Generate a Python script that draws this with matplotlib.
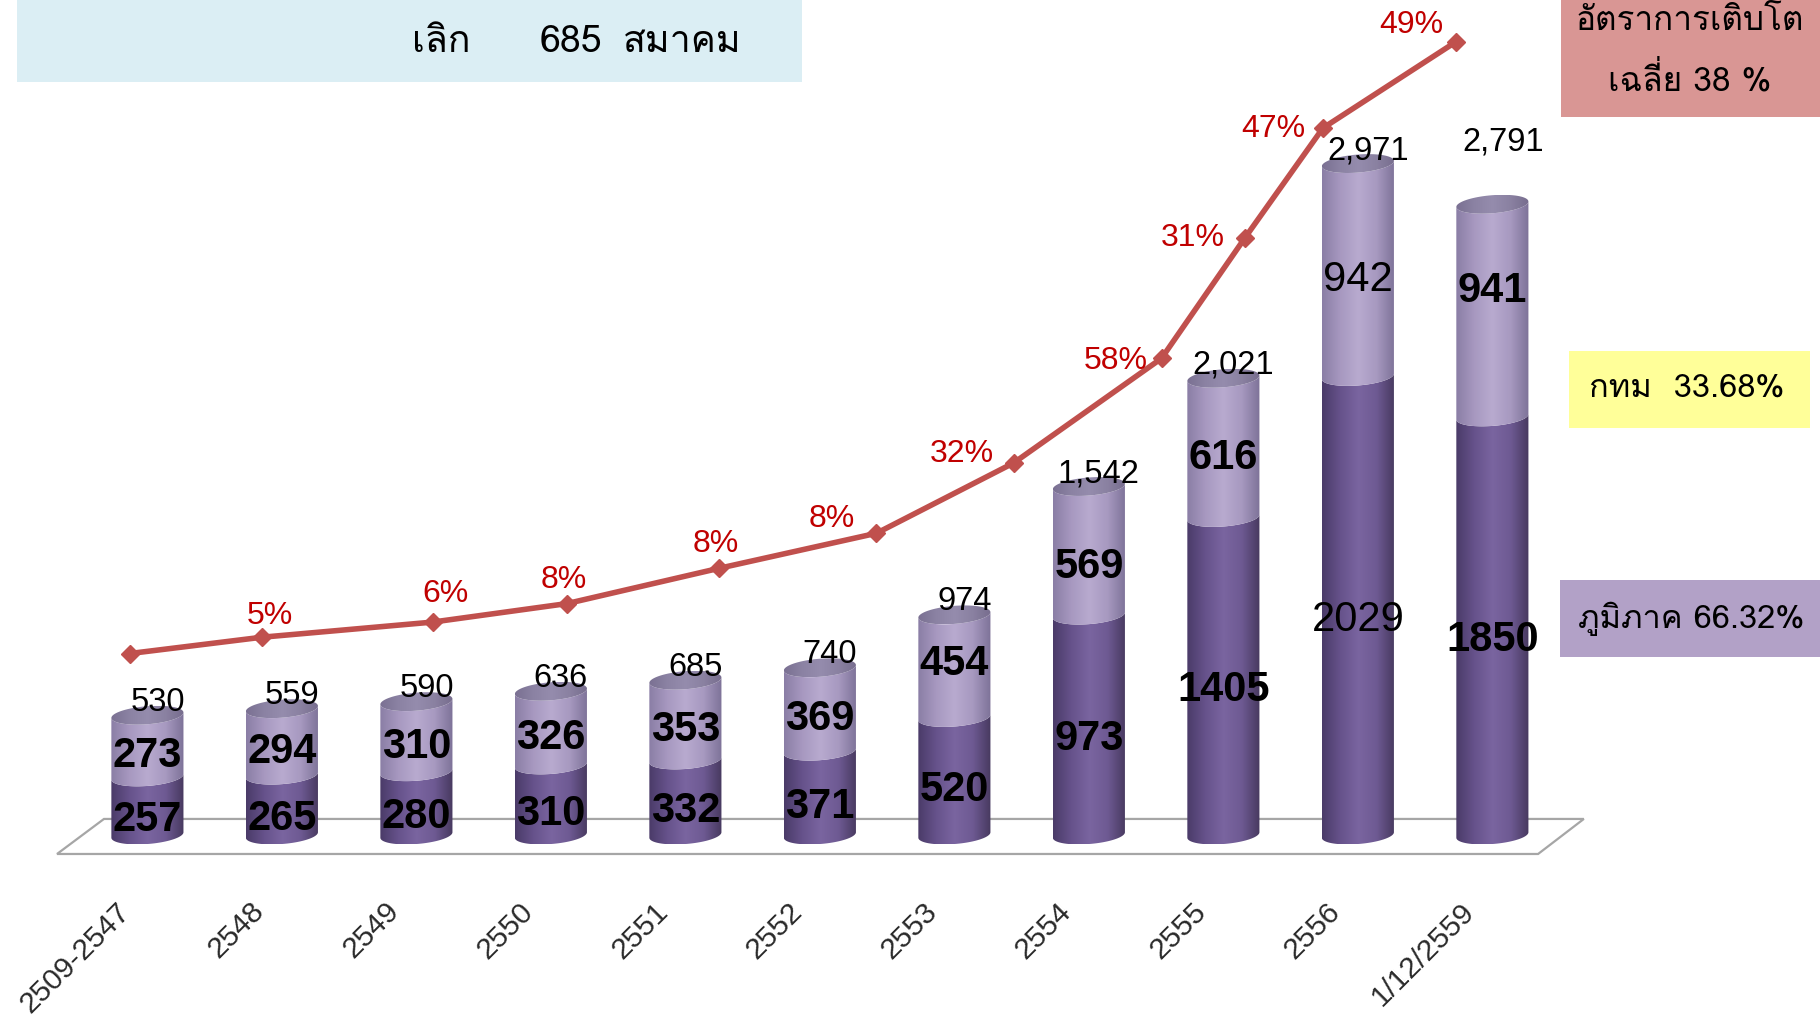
import numpy as np
import matplotlib
matplotlib.use('Agg')
import matplotlib.pyplot as plt
import matplotlib.font_manager as fm
from matplotlib.patches import Polygon, Rectangle
from matplotlib.colors import LinearSegmentedColormap

# data
years = ['2509-2547', '2548', '2549', '2550', '2551', '2552', '2553',
         '2554', '2555', '2556', '1/12/2559']
region = [257, 265, 280, 310, 332, 371, 520, 973, 1405, 2029, 1850]
bkk = [273, 294, 310, 326, 353, 369, 454, 569, 616, 942, 941]
totals = [530, 559, 590, 636, 685, 740, 974, 1542, 2021, 2971, 2791]
growth = ['', '5%', '6%', '8%', '8%', '8%', '32%', '58%', '31%', '47%', '49%']
# growth line (separate series, drawn on the same frame)
line_x = [-0.13, 0.85, 2.12, 3.12, 4.25, 5.42, 6.44, 7.54, 8.16, 8.74, 9.73]
line_y = [803, 875, 942, 1024, 1180, 1335, 1646, 2109, 2642, 3128, 3510]

names = {f.name for f in fm.fontManager.ttflist}
TH = 'Loma' if 'Loma' in names else 'Noto Sans Thai'
plt.rcParams['font.family'] = ['Liberation Sans', TH, 'DejaVu Sans']

W, H = 1820, 1018
fig = plt.figure(figsize=(W / 100, H / 100), dpi=100)
ax = fig.add_axes([0, 1 - 858 / H, 1, 858 / H])
ax.axis('off')
XL = (-1.096, 12.436)
YL = (-101.8, 3694.7)

a, b, k = 0.268, 40, 45  # cylinder half width, ellipse half height, tilt


def arc(xc, yc, t0, t1, n=80):
    t = np.linspace(t0, t1, n)
    x = xc + a * np.cos(t)
    return np.column_stack([x, yc + b * np.sin(t) + k * (x - xc)])


def grad_fill(pts, colors, z):
    cmap = LinearSegmentedColormap.from_list('g', colors)
    patch = Polygon(pts, closed=True, facecolor='none', edgecolor='none')
    ax.add_patch(patch)
    im = ax.imshow(np.linspace(0, 1, 256)[None, :], cmap=cmap, aspect='auto',
                   extent=[pts[:, 0].min(), pts[:, 0].max(), pts[:, 1].min(), pts[:, 1].max()],
                   origin='lower', interpolation='bilinear', zorder=z)
    im.set_clip_path(patch)


dark_c = ['#4a3b68', '#66528b', '#7a65a0', '#6e5a93', '#47395f']
light_c = ['#8a7ea5', '#a798c0', '#b8aacf', '#a799c0', '#7d7298']
cap_c = ['#7a7092', '#8b82a3', '#958cad', '#8a81a1', '#776d8e']

# floor
floor = np.array([[-0.672, -84], [10.34, -84], [10.68, 71], [-0.323, 71]])
ax.add_patch(Polygon(floor, closed=True, facecolor='white', edgecolor='#a6a6a6', lw=1.6, zorder=1))

# extra lift (pixels) of a few hand-placed labels
bkk_lift = [0, 0, 0, 0, 0, 0, 12, -6, 0, 0, 30]

for i in range(len(years)):
    y1 = region[i]
    y2 = region[i] + bkk[i]
    side1 = np.vstack([arc(i, 0, np.pi, 2 * np.pi), arc(i, y1, 2 * np.pi, np.pi)])
    grad_fill(side1, dark_c, 2)
    side2 = np.vstack([arc(i, y1, np.pi, 2 * np.pi), arc(i, y2, 2 * np.pi, np.pi)])
    grad_fill(side2, light_c, 2.1)
    grad_fill(arc(i, y2, 0, 2 * np.pi), cap_c, 2.2)

    wt = 'normal' if i == 9 else 'bold'
    ax.annotate(str(region[i]), (i, y1 / 2), xytext=(0, -14), textcoords='offset pixels',
                ha='center', va='center', fontsize=30, fontweight=wt, zorder=8)
    ax.annotate(str(bkk[i]), (i, y1 + bkk[i] / 2), xytext=(0, -10 + bkk_lift[i]),
                textcoords='offset pixels',
                ha='center', va='center', fontsize=30, fontweight=wt, zorder=8)
    off = (11, 62) if i == len(years) - 1 else (10, 13)
    ax.annotate(f'{totals[i]:,}', (i, y2), xytext=off, textcoords='offset pixels',
                ha='center', va='center', fontsize=23.5, zorder=8)
    ax.annotate(years[i], (i, 0), xytext=(-22, -72), textcoords='offset pixels',
                rotation=45, rotation_mode='anchor', ha='right', va='center',
                fontsize=21.5, color='#2a2a2a')

# growth line
ax.plot(line_x, line_y, color='#C0504D', lw=4, marker='D', ms=9, zorder=6)
g_off = [(0, 0), (8, 21), (13, 28), (-3, 24), (-3, 24), (-45, 14), (-52, 9),
         (-46, -3), (-52, 0), (-50, -1), (-45, 17)]
for i, g in enumerate(growth):
    if g:
        ax.annotate(g, (line_x[i], line_y[i]), xytext=g_off[i], textcoords='offset pixels',
                    ha='center', va='center', fontsize=23, color='#C00000', zorder=9)

ax.set_xlim(*XL)
ax.set_ylim(*YL)


# boxes in pixel positions of the slide
def box(x0, y0, x1, y1, color):
    fig.add_artist(Rectangle((x0 / W, 1 - y1 / H), (x1 - x0) / W, (y1 - y0) / H,
                             transform=fig.transFigure, facecolor=color, edgecolor='none', zorder=0))


def txt(x, y, s, size):
    fig.text(x / W, 1 - y / H, s, ha='center', va='center', fontsize=size,
             family=[TH, 'Liberation Sans', 'DejaVu Sans'])


box(17, 0, 802, 82, '#DBEEF4')
txt(441, 42, 'เลิก', 27)
txt(571, 42, '685', 27)
txt(682, 42, 'สมาคม', 27)

box(1561, 0, 1820, 117, '#D99694')
txt(1690, 22, 'อัตราการเติบโต', 24)
txt(1690, 80, 'เฉลี่ย 38 %', 24)

box(1569, 351, 1810, 428, '#FFFF99')
txt(1687, 389, 'กทม  33.68%', 23.5)

box(1560, 580, 1820, 657, '#B2A1C7')
txt(1691, 619, 'ภูมิภาค 66.32%', 23.5)

fig.savefig('out.png', dpi=100)
